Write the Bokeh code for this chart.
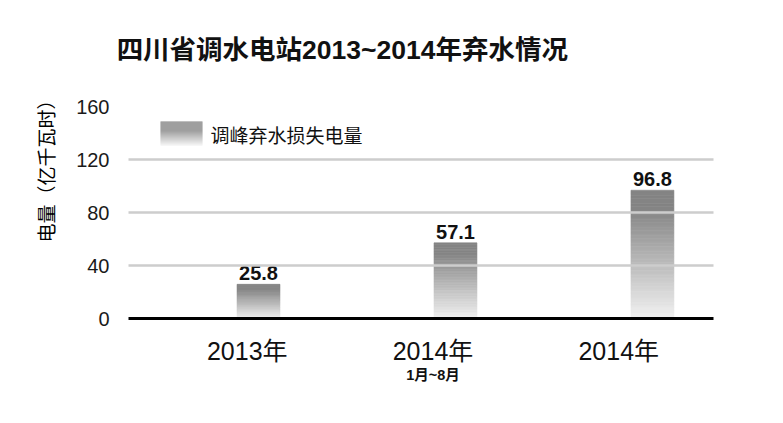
import math
from bokeh.plotting import figure
from bokeh.models import (Range1d, LinearAxis, FixedTicker, Label, BoxAnnotation,
                          ColumnDataSource)
from bokeh.core.properties import value
from bokeh.embed import file_html
from bokeh.resources import INLINE

# ---- data ----
title_text = "四川省调水电站2013~2014年弃水情况"
y_label = "电量（亿千瓦时）"
series_name = "调峰弃水损失电量"
categories = ["2013年", "2014年", "2014年"]
sub_labels = ["", "1月~8月", ""]
values = [25.8, 57.1, 96.8]
y_ticks = [0, 40, 80, 120, 160]

FONT = "Liberation Sans, Noto Sans CJK SC"
CJK = "Noto Sans CJK SC, Liberation Sans"

positions = list(range(1, len(categories) + 1))

p = figure(width=767, height=407, output_backend="svg", toolbar_location=None,
           title=None,
           x_range=Range1d(0.340, 3.310), y_range=Range1d(0, 160),
           min_border_left=128, min_border_right=54, min_border_top=106,
           min_border_bottom=89, x_axis_location=None)
p.outline_line_color = None
p.background_fill_color = "white"
p.border_fill_color = "white"
p.xgrid.visible = False

# title, drawn as the single label of a helper axis above the frame
p.extra_x_ranges = {"lab": Range1d(0.3607, 3.510), "tlab": Range1d(0, 1)}
t_ax = LinearAxis(x_range_name="tlab", ticker=FixedTicker(ticks=[0.3655]),
                  major_label_overrides={0.3655: title_text})
t_ax.axis_line_color = None
t_ax.major_tick_line_color = None
t_ax.minor_tick_line_color = None
t_ax.major_label_standoff = 36
t_ax.major_label_text_font = FONT
t_ax.major_label_text_font_size = "26.5px"
t_ax.major_label_text_font_style = "bold"
t_ax.major_label_text_color = "#111111"
p.add_layout(t_ax, "above")

# gradient bars built from slices
N = 48
bar_w = 0.218
L, R, B, T, C = [], [], [], [], []
def shade(t):
    g = int(round(242 - 110 * min(1.0, t / 0.86)))
    return "#%02x%02x%02x" % (g, g, g)
for x, v in zip(positions, values):
    for k in range(N):
        L.append(x - bar_w / 2)
        R.append(x + bar_w / 2)
        B.append(v * k / N)
        T.append(v * (k + 1) / N)
        C.append(shade((k + 0.5) / N))
src = ColumnDataSource(dict(left=L, right=R, bottom=B, top=T, color=C))
p.quad(left="left", right="right", bottom="bottom", top="top", source=src,
       fill_color="color", line_color="color", line_width=0.6)

# value labels
p.text(x=positions, y=values, text=[f"{v:.1f}" for v in values],
       text_font=value("Liberation Sans"), text_font_style="bold",
       text_font_size="20px", text_align="center", text_baseline="bottom",
       y_offset=-4, text_color="#111111")

# y axis
yax = p.yaxis[0]
yax.ticker = FixedTicker(ticks=y_ticks)
yax.axis_line_color = None
yax.major_tick_line_color = None
yax.minor_tick_line_color = None
yax.major_label_standoff = 13
yax.major_label_text_font = "Liberation Sans"
yax.major_label_text_font_size = "20px"
yax.major_label_text_color = "#1a1a1a"

# y axis title as a rotated label on a helper axis
p.extra_y_ranges = {"ylab": Range1d(0, 1)}
ylab_ax = LinearAxis(y_range_name="ylab", ticker=FixedTicker(ticks=[0.717]),
                     major_label_overrides={0.717: y_label})
ylab_ax.axis_line_color = None
ylab_ax.major_tick_line_color = None
ylab_ax.minor_tick_line_color = None
ylab_ax.major_label_orientation = "vertical"
ylab_ax.major_label_standoff = 8
ylab_ax.major_label_text_font = CJK
ylab_ax.major_label_text_font_size = "19px"
ylab_ax.major_label_text_color = "#000000"
p.add_layout(ylab_ax, "left")

# grid on top of bars
g = p.ygrid[0]
g.ticker = FixedTicker(ticks=[t for t in y_ticks if t > 0])
g.grid_line_color = "#cdcdcd"
g.grid_line_width = 2.6
g.level = "annotation"

# category axis
xax = LinearAxis(x_range_name="lab", ticker=FixedTicker(ticks=positions),
                 major_label_overrides={pos: c for pos, c in zip(positions, categories)})
xax.axis_line_color = "#000000"
xax.axis_line_width = 3
xax.major_tick_line_color = None
xax.minor_tick_line_color = None
xax.major_label_standoff = 12
xax.major_label_text_font = FONT
xax.major_label_text_font_size = "25px"
xax.major_label_text_color = "#111111"
p.add_layout(xax, "below")

# sub labels on a second helper axis
sub_pos = [pos for pos, s in zip(positions, sub_labels) if s]
sub_ax = LinearAxis(x_range_name="lab", ticker=FixedTicker(ticks=sub_pos),
                    major_label_overrides={pos: s for pos, s in zip(positions, sub_labels) if s})
sub_ax.axis_line_color = None
sub_ax.major_tick_line_color = None
sub_ax.minor_tick_line_color = None
sub_ax.major_label_standoff = -7
sub_ax.major_label_text_font = FONT
sub_ax.major_label_text_font_size = "14.5px"
sub_ax.major_label_text_font_style = "bold"
sub_ax.major_label_text_color = "#111111"
p.add_layout(sub_ax, "below")

# legend (gradient swatch + text)
sw_l, sw_r, sw_top, sw_h = 32, 74, 197, 24
for i in range(sw_h):
    t = 1 - (i + 0.5) / sw_h
    gval = int(round(242 - 114 * min(1.0, t / 0.6)))
    col = "#%02x%02x%02x" % (gval, gval, gval)
    p.add_layout(BoxAnnotation(left=sw_l, right=sw_r, top=sw_top - i, bottom=sw_top - i - 1,
                               left_units="screen", right_units="screen",
                               top_units="screen", bottom_units="screen",
                               fill_color=col, fill_alpha=1.0, line_alpha=0,
                               level="annotation"))
p.add_layout(Label(x=82, y=184, x_units="screen", y_units="screen", text=series_name,
                   text_font=CJK, text_font_size="19px", text_align="left",
                   text_baseline="middle", text_color="#111111"))

open("out.html", "w").write(file_html(p, INLINE))
